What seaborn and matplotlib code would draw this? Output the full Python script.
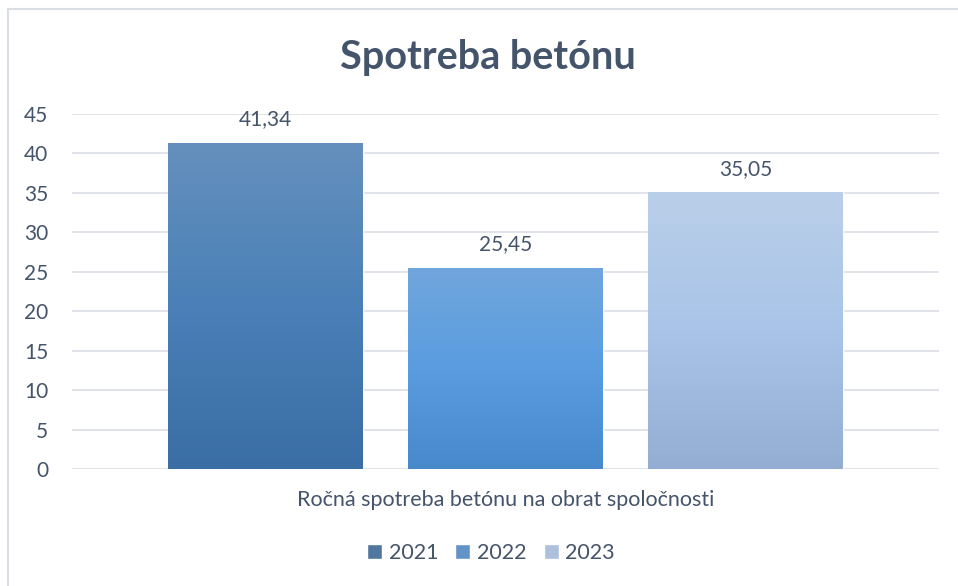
import numpy as np
import pandas as pd
import matplotlib
matplotlib.use("Agg")
import matplotlib.pyplot as plt
import matplotlib.colors as mcolors
from matplotlib.patches import Rectangle
import seaborn as sns

# data
category = "Ročná spotreba betónu na obrat spoločnosti"
years = ["2021", "2022", "2023"]
values = [41.34, 25.45, 35.05]

# gradient colours per year (top, middle, bottom)
grad_colors = {
    "2021": ["#6590BD", "#4A80B7", "#3A6EA5"],
    "2022": ["#70A6DC", "#5A9CE0", "#4889CC"],
    "2023": ["#BACFE9", "#A9C4E8", "#94AED3"],
}
legend_colors = {"2021": "#4476AC", "2022": "#5294D8", "2023": "#A6BFE2"}
text_col = "#44546A"

df = pd.DataFrame({"cat": [category] * 3, "year": years, "value": values})

sns.set_theme(style="white")
plt.rcParams["font.family"] = ["Lato", "DejaVu Sans"]

fig = plt.figure(figsize=(9.58, 5.86), dpi=100)
ax = fig.add_axes([72 / 958, 1 - 469 / 586, (939 - 72) / 958, (469 - 114) / 586])

sns.barplot(data=df, x="cat", y="value", hue="year", palette=legend_colors,
            width=0.83, gap=0.1875, ax=ax, legend=True)

# gradient fill for each bar
for c, yr in zip(ax.containers, years):
    for p in c.patches:
        x0, w, h = p.get_x(), p.get_width(), p.get_height()
        cmap = mcolors.LinearSegmentedColormap.from_list("g", grad_colors[yr][::-1])
        grad = np.linspace(0, 1, 256).reshape(-1, 1)
        im = ax.imshow(grad, extent=[x0, x0 + w, 0, h], origin="lower",
                       aspect="auto", cmap=cmap, zorder=p.get_zorder() + 0.1)
        im.set_clip_path(p)

for c in ax.containers:
    ax.bar_label(c, labels=[f"{v:.2f}".replace(".", ",") for v in c.datavalues],
                 padding=10, fontsize=15, color=text_col, zorder=5)

ax.set_xlim(-0.5, 0.5)
ax.set_ylim(0, 45)
ax.set_yticks(range(0, 46, 5))
ax.yaxis.grid(True, color="#DDE1E7", linewidth=1.3)
ax.set_axisbelow(True)
for s in ax.spines.values():
    s.set_visible(False)
ax.set_xlabel("")
ax.set_ylabel("")
ax.tick_params(axis="y", length=0, pad=17, labelsize=15, labelcolor=text_col)
ax.tick_params(axis="x", length=0, pad=15, labelsize=15.5, labelcolor=text_col)

# legend at bottom
handles, labels = ax.get_legend_handles_labels()
ax.get_legend().remove()
fig.legend(handles, labels, loc="center", bbox_to_anchor=(491 / 958, 1 - 553 / 586),
           ncol=3, frameon=False, fontsize=15.5, labelcolor=text_col,
           handlelength=0.7, handleheight=0.7, handletextpad=0.3,
           columnspacing=0.8)

fig.text(487.5 / 958, 1 - 57 / 586, "Spotreba betónu", ha="center", va="center",
         fontsize=28.5, fontweight="bold", color=text_col)

# chart frame
fig.patches.append(Rectangle((8 / 958, -0.1), 1.1, 1.1 - 9 / 586 + 0.0,
                             transform=fig.transFigure, fill=False,
                             edgecolor="#D9DEE4", linewidth=1.5))

fig.savefig("out.png", dpi=100, facecolor="white")
